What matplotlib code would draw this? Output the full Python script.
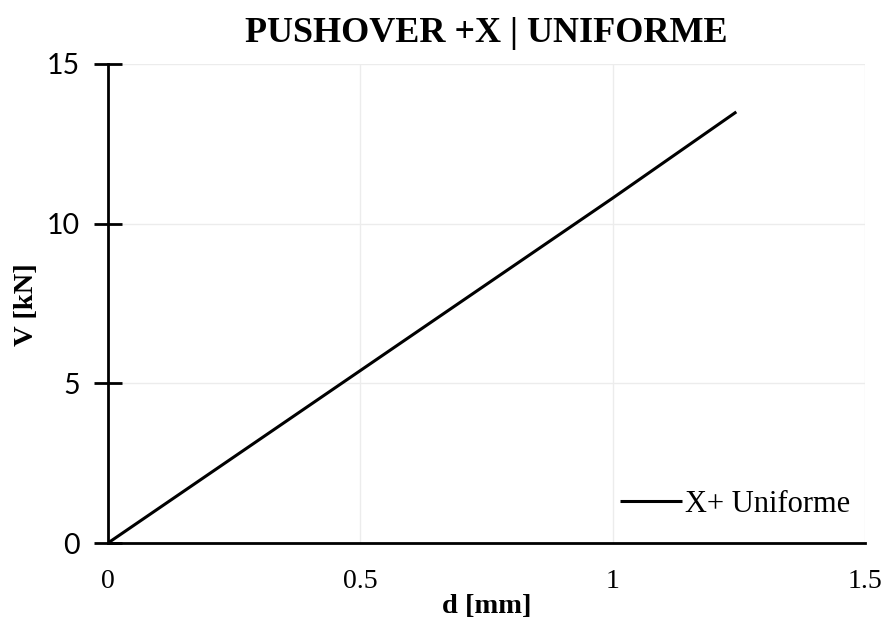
import matplotlib.pyplot as plt

# pushover curve
d_mm = [0.0, 0.25, 0.5, 0.75, 1.0, 1.245]
v_kn = [0.0, 2.7, 5.4, 8.1, 10.8, 13.5]

x_ticks = [0, 0.5, 1, 1.5]
x_labels = ["0", "0.5", "1", "1.5"]
y_ticks = [0, 5, 10, 15]

serif = "Liberation Serif"
sans = "Lato"

fig = plt.figure(figsize=(8.87, 6.23), dpi=100)
ax = fig.add_axes([108 / 887, 1 - 543 / 623, 757 / 887, 479 / 623])

ax.plot(d_mm, v_kn, color="black", lw=2.2, label="X+ Uniforme", solid_capstyle="butt")

ax.set_xlim(0, 1.5)
ax.set_ylim(0, 15)
ax.set_xticks(x_ticks)
ax.set_xticklabels(x_labels, fontfamily=serif, fontsize=20)
ax.set_yticks(y_ticks)
ax.set_yticklabels([str(t) for t in y_ticks], fontfamily=sans, fontsize=20.5)

ax.grid(True, color="#ececec", lw=1.0)
ax.set_axisbelow(True)
for s in ["top", "right"]:
    ax.spines[s].set_visible(False)
for s in ["left", "bottom"]:
    ax.spines[s].set_linewidth(2)
ax.tick_params(axis="x", length=0, pad=19)
ax.tick_params(axis="y", direction="inout", length=20, width=2, pad=10.5)

ax.set_xlabel("d [mm]", fontfamily=serif, fontweight="bold", fontsize=20.5, labelpad=0)
ax.set_ylabel("V [kN]", fontfamily=serif, fontweight="bold", fontsize=20.5,
              ha="center", va="center")
ax.yaxis.set_label_coords(-0.108, 0.497)
ax.set_title("PUSHOVER +X | UNIFORME", fontfamily=serif, fontweight="bold",
             fontsize=26, pad=16)

ax.legend(loc="lower right", frameon=False, prop={"family": serif, "size": 22},
          handlelength=2.0, handletextpad=0.1, borderaxespad=0.1,
          bbox_to_anchor=(1.0, 0.018))

fig.savefig("out.png", dpi=100)
